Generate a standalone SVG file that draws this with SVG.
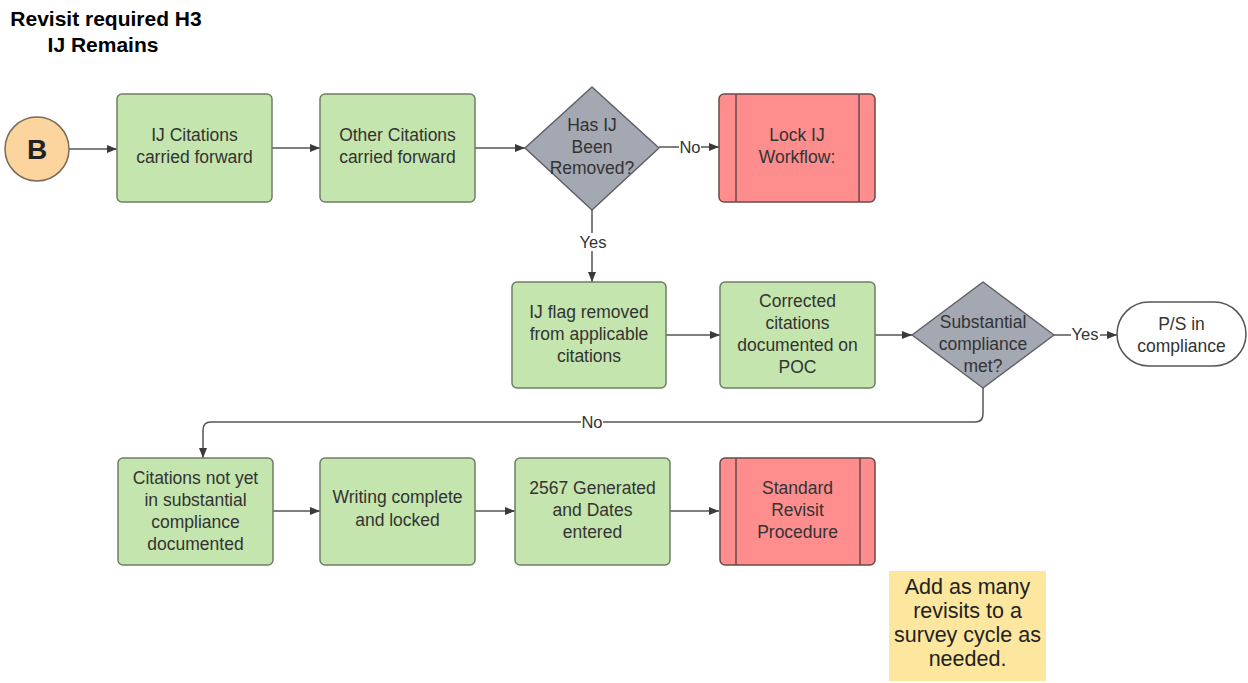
<svg xmlns="http://www.w3.org/2000/svg" width="1248" height="683" viewBox="0 0 1248 683">
<defs>
<marker id="arr" viewBox="0 0 10 8" refX="10" refY="4" markerWidth="10" markerHeight="8" markerUnits="userSpaceOnUse" orient="auto">
<path d="M0,0 L10,4 L0,8 Z" fill="#3a3a3a"/>
</marker>
<style>
.t{font-family:"Liberation Sans",Arial,sans-serif;font-size:17.5px;fill:#333;text-anchor:middle}
.title{font-family:"Liberation Sans",Arial,sans-serif;font-size:21px;font-weight:bold;fill:#000;text-anchor:middle}
.green{fill:#c4e5ad;stroke:#6f7f66;stroke-width:1.5}
.red{fill:#fe8d8d;stroke:#6a4a4a;stroke-width:1.5}
.dia{fill:#a3a8b2;stroke:#5d6068;stroke-width:1.5}
.c{fill:none;stroke:#555;stroke-width:1.5;marker-end:url(#arr)}
.lbl{font-family:"Liberation Sans",Arial,sans-serif;font-size:16.5px;fill:#333;text-anchor:middle}
.sticky{font-family:"Liberation Sans",Arial,sans-serif;font-size:21.5px;fill:#222;text-anchor:middle}
</style>
</defs>
<rect width="1248" height="683" fill="#fff"/>
<g id="title">
<text class="title" x="106" y="26">Revisit required H3</text>
<text class="title" x="103" y="52">IJ Remains</text>
</g>
<g id="connectors">
<line class="c" x1="69" y1="149" x2="117" y2="149"/>
<line class="c" x1="272" y1="148" x2="320" y2="148"/>
<line class="c" x1="475" y1="148" x2="525" y2="148"/>
<line class="c" x1="659" y1="147" x2="719" y2="147"/>
<line class="c" x1="592" y1="210" x2="592" y2="282"/>
<line class="c" x1="666" y1="335" x2="720" y2="335"/>
<line class="c" x1="875" y1="335" x2="912" y2="335"/>
<line class="c" x1="1054" y1="335" x2="1117" y2="335"/>
<path class="c" d="M983,388 V414 Q983,422 975,422 H211 Q203,422 203,430 V458"/>
<line class="c" x1="273" y1="511" x2="320" y2="511"/>
<line class="c" x1="475" y1="511" x2="515" y2="511"/>
<line class="c" x1="670" y1="511" x2="719" y2="511"/>
<rect x="679" y="138" width="22" height="18" fill="#fff"/>
<text class="lbl" x="690" y="153">No</text>
<rect x="580" y="233" width="27" height="18" fill="#fff"/>
<text class="lbl" x="593" y="248">Yes</text>
<rect x="1071" y="326" width="29" height="18" fill="#fff"/>
<text class="lbl" x="1085" y="340">Yes</text>
<rect x="581" y="413" width="22" height="18" fill="#fff"/>
<text class="lbl" x="592" y="428">No</text>
</g>
<g id="start">
<circle cx="37" cy="149" r="32" fill="#fcd49d" stroke="#7a6a55" stroke-width="1.5"/>
<text x="37" y="159" font-family="'Liberation Sans',Arial,sans-serif" font-size="28" font-weight="bold" fill="#222" text-anchor="middle">B</text>
</g>
<g id="ij-citations">
<rect class="green" x="117" y="94" width="155" height="108" rx="5"/>
<text class="t" x="194.5" y="141">IJ Citations</text>
<text class="t" x="194.5" y="163">carried forward</text>
</g>
<g id="other-citations">
<rect class="green" x="320" y="94" width="155" height="108" rx="5"/>
<text class="t" x="397.5" y="141">Other Citations</text>
<text class="t" x="397.5" y="163">carried forward</text>
</g>
<g id="has-ij-removed">
<path class="dia" d="M592,87 L659,148 L592,210 L525,148 Z" stroke-linejoin="round"/>
<text class="t" x="592" y="131">Has IJ</text>
<text class="t" x="592" y="153">Been</text>
<text class="t" x="592" y="174">Removed?</text>
</g>
<g id="lock-ij">
<rect class="red" x="719" y="94" width="156" height="108" rx="5"/>
<line x1="736" y1="94" x2="736" y2="202" stroke="#6a4a4a" stroke-width="1.5"/>
<line x1="859" y1="94" x2="859" y2="202" stroke="#6a4a4a" stroke-width="1.5"/>
<text class="t" x="797" y="141">Lock IJ</text>
<text class="t" x="797" y="163">Workflow:</text>
</g>
<g id="ij-flag">
<rect class="green" x="512" y="282" width="154" height="106" rx="5"/>
<text class="t" x="589" y="318">IJ flag removed</text>
<text class="t" x="589" y="340">from applicable</text>
<text class="t" x="589" y="362">citations</text>
</g>
<g id="corrected">
<rect class="green" x="720" y="282" width="155" height="106" rx="5"/>
<text class="t" x="797.5" y="307">Corrected</text>
<text class="t" x="797.5" y="329">citations</text>
<text class="t" x="797.5" y="351">documented on</text>
<text class="t" x="797.5" y="373">POC</text>
</g>
<g id="substantial">
<path class="dia" d="M983,282 L1054,335 L983,388 L912,335 Z" stroke-linejoin="round"/>
<text class="t" x="983" y="328">Substantial</text>
<text class="t" x="983" y="350">compliance</text>
<text class="t" x="983" y="372">met?</text>
</g>
<g id="ps-compliance">
<rect x="1117" y="302" width="129" height="64" rx="32" fill="#fff" stroke="#555" stroke-width="1.5"/>
<text class="t" x="1181.5" y="330">P/S in</text>
<text class="t" x="1181.5" y="352">compliance</text>
</g>
<g id="citations-not-yet">
<rect class="green" x="118" y="458" width="155" height="107" rx="5"/>
<text class="t" x="195.5" y="484">Citations not yet</text>
<text class="t" x="195.5" y="506">in substantial</text>
<text class="t" x="195.5" y="528">compliance</text>
<text class="t" x="195.5" y="550">documented</text>
</g>
<g id="writing-complete">
<rect class="green" x="320" y="458" width="155" height="107" rx="5"/>
<text class="t" x="397.5" y="503">Writing complete</text>
<text class="t" x="397.5" y="526">and locked</text>
</g>
<g id="generated-2567">
<rect class="green" x="515" y="458" width="155" height="107" rx="5"/>
<text class="t" x="592.5" y="494">2567 Generated</text>
<text class="t" x="592.5" y="516">and Dates</text>
<text class="t" x="592.5" y="538">entered</text>
</g>
<g id="standard-revisit">
<rect class="red" x="720" y="458" width="155" height="107" rx="5"/>
<line x1="736" y1="458" x2="736" y2="565" stroke="#6a4a4a" stroke-width="1.5"/>
<line x1="860" y1="458" x2="860" y2="565" stroke="#6a4a4a" stroke-width="1.5"/>
<text class="t" x="797.5" y="494">Standard</text>
<text class="t" x="797.5" y="516">Revisit</text>
<text class="t" x="797.5" y="538">Procedure</text>
</g>
<g id="note">
<rect x="889" y="571" width="157" height="110" fill="#fde79f"/>
<text class="sticky" x="967.5" y="594">Add as many</text>
<text class="sticky" x="967.5" y="618">revisits to a</text>
<text class="sticky" x="967.5" y="642">survey cycle as</text>
<text class="sticky" x="967.5" y="666">needed.</text>
</g>
</svg>
